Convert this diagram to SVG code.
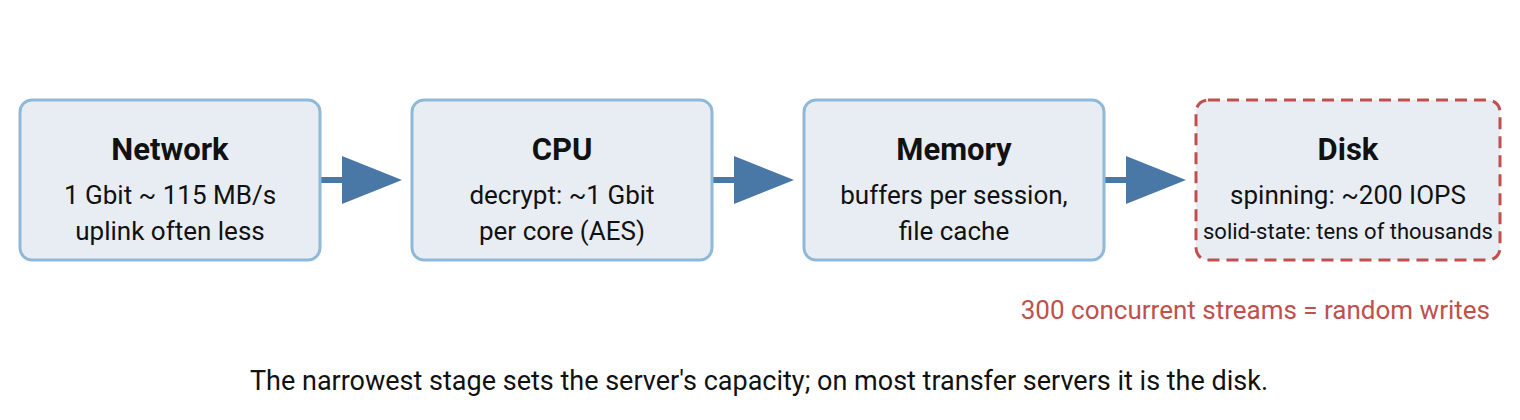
<svg xmlns="http://www.w3.org/2000/svg" width="1520" height="420" viewBox="0 0 1520 420">
<style>
.box{fill:#e8edf4;stroke:#8fb9d8;stroke-width:3}
.disk{fill:#e8edf4;stroke:#c0504d;stroke-width:3;stroke-dasharray:12 7}
text{font-family:Roboto,"Liberation Sans",sans-serif;text-anchor:middle;fill:#111}
.t{font-size:31px;font-weight:bold}
.s{font-size:26px}
.xs{font-size:22px}
.ln{stroke:#4a78a6;stroke-width:6}
.hd{fill:#4a78a6}
</style>
<rect width="1520" height="420" fill="#fff"/>
<g id="connectors">
<line class="ln" x1="320" y1="180" x2="345" y2="180"/><polygon class="hd" points="342,156 402,180 342,204"/>
<line class="ln" x1="712" y1="180" x2="737" y2="180"/><polygon class="hd" points="734,156 794,180 734,204"/>
<line class="ln" x1="1104" y1="180" x2="1129" y2="180"/><polygon class="hd" points="1126,156 1186,180 1126,204"/>
</g>
<g id="network"><rect class="box" x="20" y="100" width="300" height="160" rx="12"/>
<text class="t" x="170" y="160">Network</text><text class="s" x="170" y="204">1 Gbit ~ 115 MB/s</text><text class="s" x="170" y="240">uplink often less</text></g>
<g id="cpu"><rect class="box" x="412" y="100" width="300" height="160" rx="12"/>
<text class="t" x="562" y="160">CPU</text><text class="s" x="562" y="204">decrypt: ~1 Gbit</text><text class="s" x="562" y="240">per core (AES)</text></g>
<g id="memory"><rect class="box" x="804" y="100" width="300" height="160" rx="12"/>
<text class="t" x="954" y="160">Memory</text><text class="s" x="954" y="204">buffers per session,</text><text class="s" x="954" y="240">file cache</text></g>
<g id="disk"><rect class="disk" x="1196" y="100" width="304" height="160" rx="12"/>
<text class="t" x="1348" y="160">Disk</text><text class="s" x="1348" y="204">spinning: ~200 IOPS</text><text class="xs" x="1348" y="239">solid-state: tens of thousands</text></g>
<text class="s" x="1490" y="319" style="text-anchor:end;fill:#c0504d">300 concurrent streams = random writes</text>
<text x="759" y="390" style="font-size:27px">The narrowest stage sets the server's capacity; on most transfer servers it is the disk.</text>
</svg>
